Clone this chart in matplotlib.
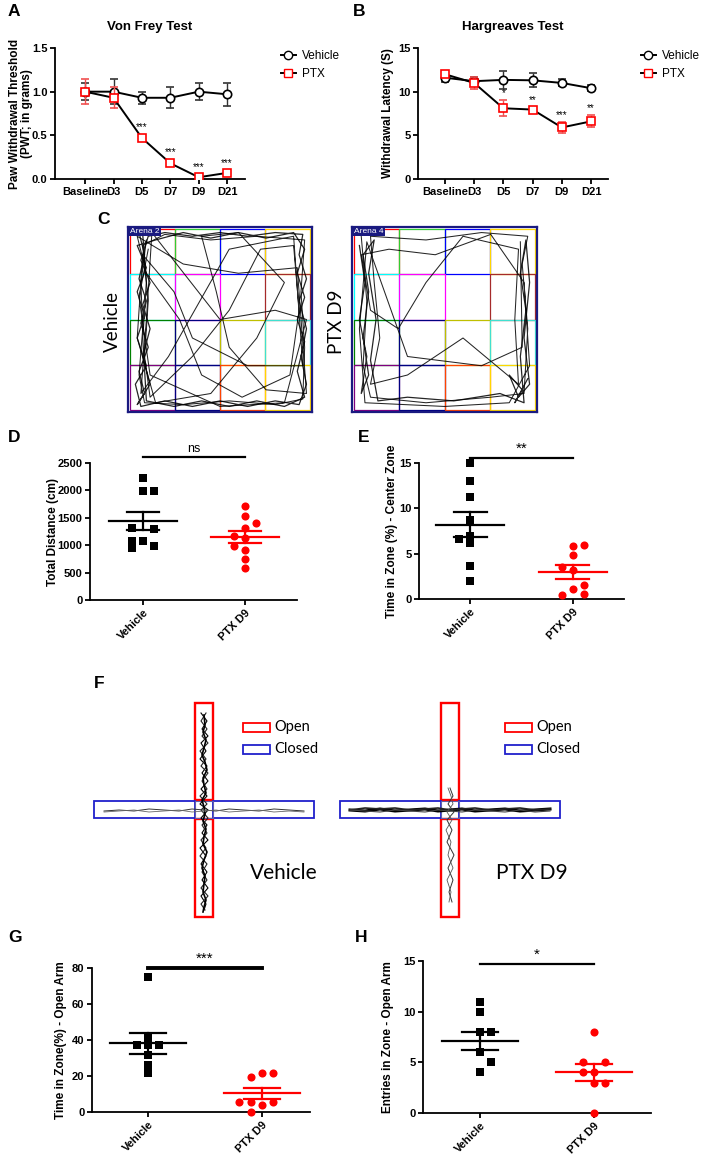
import numpy as np
import matplotlib.pyplot as plt
from matplotlib.patches import Rectangle
from matplotlib.lines import Line2D

W, H = 702, 1158
plt.rcParams['font.family'] = ['Liberation Sans', 'DejaVu Sans']
plt.rcParams['font.weight'] = 'bold'
plt.rcParams['axes.labelweight'] = 'bold'
plt.rcParams['axes.linewidth'] = 1.3

# ---- A / B : time course ----
days = ['Baseline', 'D3', 'D5', 'D7', 'D9', 'D21']
vf_veh = [1.0, 1.0, 0.93, 0.93, 1.0, 0.97]
vf_veh_err = [0.10, 0.14, 0.07, 0.12, 0.10, 0.13]
vf_ptx = [1.0, 0.93, 0.47, 0.18, 0.02, 0.07]
vf_ptx_err = [0.14, 0.12, 0.02, 0.02, 0.01, 0.01]
vf_stars = ['', '', '***', '***', '***', '***']

hg_veh = [11.6, 11.2, 11.35, 11.3, 11.0, 10.4]
hg_veh_err = [0.5, 0.5, 1.0, 0.8, 0.4, 0.35]
hg_ptx = [12.0, 11.0, 8.1, 7.95, 5.9, 6.6]
hg_ptx_err = [0.3, 0.7, 0.9, 0.2, 0.6, 0.7]
hg_stars = ['', '', '*', '**', '***', '**']

# ---- D / E / G / H : dot plots ----
groups = ['Vehicle', 'PTX D9']

dist_veh = [2230, 1980, 1990, 1320, 1300, 1080, 1070, 950, 990]
dist_veh_dx = [0, 0, 1, -1, 1, -1, 0, -1, 1]
dist_ptx = [1710, 1530, 1400, 1310, 1160, 1140, 990, 920, 750, 580]
dist_ptx_dx = [0, 0, 1, 0, -1, 0, -1, 0, 0, 0]
dist_mean = [1440, 1150]
dist_sem = [165, 115]

center_veh = [15.0, 13.0, 11.2, 8.7, 7.0, 6.6, 6.2, 3.6, 2.0]
center_veh_dx = [0, 0, 0, 0, 0, -1, 0, 0, 0]
center_ptx = [6.0, 5.8, 4.8, 3.5, 3.2, 1.5, 1.1, 0.5, 0.4]
center_ptx_dx = [1, 0, 0, -1, 0, 1, 0, 1, -1]
center_mean = [8.2, 3.0]
center_sem = [1.4, 0.75]

open_veh = [75, 41, 37, 37, 37, 31.5, 26, 21.5]
open_veh_dx = [0, 0, -1, 0, 1, 0, 0, 0]
open_ptx = [21.5, 21.5, 19.5, 5.5, 5.5, 5.5, 3.8, 0]
open_ptx_dx = [0, 1, -1, -2, -1, 1, 0, -1]
open_mean = [38.2, 10.4]
open_sem = [5.8, 3.0]

entries_veh = [11, 10, 8, 8, 6, 5, 4]
entries_veh_dx = [0, 0, 0, 1, 0, 1, 0]
entries_ptx = [8, 5, 5, 4, 4, 3, 3, 0]
entries_ptx_dx = [0, -1, 1, -1, 0, 0, 1, 0]
entries_mean = [7.1, 4.0]
entries_sem = [0.9, 0.8]

# ---- C : open field tracks (arena coords, 0..1) ----
veh_track = [(0.10, 0.93), (0.07, 0.70), (0.08, 0.45), (0.06, 0.20), (0.09, 0.05), (0.30, 0.04),
             (0.55, 0.06), (0.80, 0.04), (0.95, 0.07), (0.96, 0.35), (0.94, 0.65), (0.96, 0.93),
             (0.70, 0.95), (0.45, 0.93), (0.20, 0.96), (0.08, 0.90), (0.11, 0.60), (0.09, 0.30),
             (0.12, 0.08), (0.35, 0.30), (0.55, 0.55), (0.72, 0.88), (0.90, 0.90), (0.93, 0.55),
             (0.88, 0.20), (0.62, 0.08), (0.40, 0.20), (0.28, 0.50), (0.10, 0.75), (0.05, 0.95),
             (0.30, 0.80), (0.60, 0.75), (0.92, 0.78), (0.97, 0.10), (0.75, 0.12), (0.55, 0.35),
             (0.48, 0.65), (0.40, 0.95), (0.60, 0.97), (0.85, 0.70), (0.70, 0.40), (0.45, 0.10),
             (0.15, 0.05), (0.05, 0.40), (0.08, 0.85), (0.25, 0.65), (0.35, 0.40), (0.65, 0.25),
             (0.95, 0.25), (0.90, 0.95), (0.55, 0.88), (0.22, 0.30), (0.07, 0.10), (0.10, 0.50),
             (0.13, 0.97), (0.50, 0.50), (0.80, 0.55), (0.97, 0.50), (0.85, 0.05), (0.50, 0.03),
             (0.12, 0.20), (0.06, 0.62), (0.11, 0.88)]
veh_edge = [(0.06, 0.97), (0.09, 0.85), (0.06, 0.72), (0.10, 0.60), (0.07, 0.48), (0.11, 0.35),
            (0.06, 0.22), (0.09, 0.10), (0.05, 0.04), (0.12, 0.15), (0.08, 0.30), (0.12, 0.45),
            (0.08, 0.58), (0.12, 0.70), (0.07, 0.82), (0.11, 0.95), (0.20, 0.97), (0.35, 0.95),
            (0.50, 0.97), (0.65, 0.95), (0.80, 0.97), (0.95, 0.96), (0.93, 0.85), (0.97, 0.72),
            (0.93, 0.60), (0.97, 0.45), (0.94, 0.30), (0.97, 0.15), (0.93, 0.04), (0.80, 0.06),
            (0.65, 0.03), (0.50, 0.06), (0.35, 0.03), (0.20, 0.06), (0.07, 0.03), (0.04, 0.15),
            (0.10, 0.25), (0.05, 0.40), (0.09, 0.52), (0.05, 0.65), (0.10, 0.78), (0.05, 0.90),
            (0.15, 0.93), (0.30, 0.97), (0.45, 0.94), (0.60, 0.97), (0.75, 0.94), (0.90, 0.97),
            (0.96, 0.88), (0.92, 0.75), (0.96, 0.62), (0.92, 0.50), (0.96, 0.38), (0.92, 0.22),
            (0.96, 0.08), (0.85, 0.03), (0.70, 0.06), (0.55, 0.03), (0.40, 0.06), (0.25, 0.03),
            (0.10, 0.06), (0.08, 0.40), (0.10, 0.70), (0.08, 0.96)]
ptx_track = [(0.05, 0.95), (0.08, 0.60), (0.06, 0.25), (0.10, 0.08), (0.40, 0.05), (0.75, 0.08),
             (0.93, 0.10), (0.95, 0.45), (0.92, 0.80), (0.95, 0.95), (0.70, 0.97), (0.40, 0.93),
             (0.10, 0.95), (0.12, 0.70), (0.15, 0.40), (0.10, 0.15), (0.30, 0.20), (0.60, 0.40),
             (0.90, 0.15), (0.88, 0.50), (0.90, 0.88), (0.60, 0.95), (0.40, 0.70), (0.25, 0.45),
             (0.10, 0.55), (0.05, 0.85), (0.20, 0.88), (0.45, 0.85), (0.75, 0.96), (0.93, 0.70),
             (0.96, 0.25), (0.85, 0.05), (0.50, 0.03), (0.07, 0.05), (0.04, 0.45), (0.08, 0.92),
             (0.30, 0.30), (0.70, 0.25), (0.92, 0.35), (0.91, 0.92)]
ptx_edge = [(0.04, 0.90), (0.07, 0.70), (0.04, 0.50), (0.08, 0.30), (0.05, 0.10), (0.09, 0.20),
            (0.06, 0.40), (0.09, 0.65), (0.06, 0.85), (0.12, 0.93), (0.09, 0.75), (0.13, 0.50),
            (0.10, 0.28), (0.14, 0.06), (0.30, 0.08), (0.55, 0.06), (0.80, 0.10), (0.93, 0.05),
            (0.91, 0.30), (0.94, 0.55), (0.91, 0.75), (0.94, 0.93), (0.96, 0.70), (0.93, 0.40),
            (0.96, 0.15), (0.90, 0.08), (0.85, 0.20), (0.92, 0.12), (0.88, 0.05), (0.95, 0.18)]
cell_colors = [['red', 'limegreen', 'blue', 'gold'],
               ['cyan', 'magenta', 'none', 'brown'],
               ['green', 'navy', 'y', 'turquoise'],
               ['purple', 'navy', 'orangered', 'gold']]

# ---- F : plus maze tracks (offsets from maze centre, px) ----
open_y = [-97, -89, -81, -74, -67, -59, -51, -44, -37, -29, -21, -14, -6, 0, 8, 15, 23, 30,
          38, 46, 54, 62, 70, 78, 86, 94, 100]
veh_open_dx = [-3, 3, -2, 4, -3, 2, -4, 3, -2, 4, -3, 3, -4, 4, -3, 3, -2, 4, -4, 2, -3, 3,
               -2, 4, -3, 2, 0]
veh_open_dx2 = [2, -3, 3, -2, 4, -4, 2, -3, 4, -2, 3, -4, 3, -3, 4, -2, 3, -3, 2, -4, 3, -2,
                3, -3, 4, -3, 1]
veh_open_dx3 = [0, 1, -1, 2, 0, -2, 1, 3, -1, 0, 2, -2, 0, 1, -1, 2, 0, -1, 3, 0, -2, 1,
                0, -1, 2, 0, -1]
veh_open_y3 = [-95, -85, -78, -70, -62, -55, -48, -40, -32, -25, -17, -10, -3, 4, 11, 19, 27,
               34, 42, 50, 58, 66, 74, 82, 90, 97, 102]
closed_x = [-100, -85, -70, -55, -40, -25, -12, 0, 12, 25, 40, 55, 70, 85, 100]
veh_closed_dy = [1, 0, 1, -1, 0, 1, -1, 0, 1, -1, 0, 1, -1, 0, 1]
ptx_closed_dy = [0, 1, -1, 1, 0, -1, 1, 0, -1, 1, 0, -1, 1, 0, -1]
ptx_closed_dy2 = [1, -1, 0, -1, 1, 0, -1, 1, 0, -1, 1, 0, -1, 1, 0]
ptx_open_y = [-22, -14, -6, 2, 10, 20, 32, 45, 58, 70, 82, 92]
ptx_open_dx = [0, 3, -2, 4, -3, 2, -3, 4, -2, 3, -1, 2]
ptx_open_dx2 = [-2, 1, 3, -3, 2, -4, 1, -2, 3, -3, 1, -1]

fig = plt.figure(figsize=(W / 100, H / 100), dpi=100)


def add_ax(l, t, r, b):
    return fig.add_axes([l / W, 1 - b / H, (r - l) / W, (b - t) / H])


def letter(x, y, s):
    fig.text(x / W, 1 - y / H, s, fontsize=12.5, fontweight='bold', va='center', ha='left')


def style(ax):
    ax.spines['top'].set_visible(False)
    ax.spines['right'].set_visible(False)
    ax.tick_params(labelsize=8, width=1.3, length=3.5, pad=2)
    for t in ax.get_xticklabels() + ax.get_yticklabels():
        t.set_fontweight('bold')


def course(ax, veh, veh_err, ptx, ptx_err, stars, gap):
    x = np.arange(len(days))
    ax.errorbar(x, veh, yerr=veh_err, color='black', marker='o', ms=6, mfc='white', mec='black',
                mew=1.2, lw=1.4, ecolor='#333333', elinewidth=1, capsize=3, zorder=3)
    ax.errorbar(x, ptx, yerr=ptx_err, color='black', marker='s', ms=6, mfc='white', mec='red',
                mew=1.2, lw=1.4, ecolor='#f05050', elinewidth=1, capsize=3, zorder=4)
    for i, s in enumerate(stars):
        if s:
            ax.text(x[i], ptx[i] + ptx_err[i] + gap, s, ha='center', va='bottom',
                    fontsize=7, fontweight='normal')
    ax.set_xticks(x)
    ax.set_xticklabels(days)


# A
axA = add_ax(55, 48, 245, 179)
course(axA, vf_veh, vf_veh_err, vf_ptx, vf_ptx_err, vf_stars, 0.05)
axA.set_xlim(-1.06, 5.63)
axA.set_ylim(0, 1.5)
axA.set_yticks([0, 0.5, 1.0, 1.5])
axA.set_yticklabels(['0.0', '0.5', '1.0', '1.5'])
axA.set_ylabel('Paw Withdrawal Threshold\n(PWT; in grams)', fontsize=8.5, linespacing=1.0)
axA.yaxis.set_label_coords(-0.115, 0.5)
axA.set_title('Von Frey Test', fontsize=9.5, fontweight='bold', pad=13)
style(axA)
letter(8, 12, 'A')

# B
axB = add_ax(418, 48, 608, 179)
course(axB, hg_veh, hg_veh_err, hg_ptx, hg_ptx_err, hg_stars, 0.3)
axB.set_xlim(-0.92, 5.58)
axB.set_ylim(0, 15)
axB.set_yticks([0, 5, 10, 15])
axB.set_ylabel('Withdrawal Latency (S)', fontsize=8.5)
axB.yaxis.set_label_coords(-0.125, 0.5)
axB.set_title('Hargreaves Test', fontsize=9.5, fontweight='bold', pad=13)
style(axB)
letter(353, 12, 'B')

leg_handles = [Line2D([], [], color='black', marker='o', ms=6, mfc='white', mec='black', lw=1.4),
               Line2D([], [], color='black', marker='s', ms=6, mfc='white', mec='red', lw=1.4)]
for lx in (276, 636):
    fig.legend(leg_handles, ['Vehicle', 'PTX'], loc='upper left',
               bbox_to_anchor=(lx / W, 1 - 45 / H), frameon=False, handlelength=1.3,
               handletextpad=0.5, labelspacing=0.55, borderaxespad=0,
               prop={'size': 8.5, 'weight': 'normal'})

# C
letter(97, 220, 'C')
for (l, r), tracks, name, lab, lx in [((128, 312), (veh_track, veh_edge), 'Arena 2', 'Vehicle', 112),
                                      ((352, 537), (ptx_track, ptx_edge), 'Arena 4', 'PTX D9', 337)]:
    ax = add_ax(l, 227, r, 412)
    ax.set_xlim(0, 1)
    ax.set_ylim(0, 1)
    ax.set_xticks([])
    ax.set_yticks([])
    for sp in ax.spines.values():
        sp.set_color('#1a1a80')
        sp.set_linewidth(1.6)
    for i in range(4):
        for j in range(4):
            c = cell_colors[i][j]
            if c != 'none':
                ax.add_patch(Rectangle((0.012 + j * 0.244, 0.988 - (i + 1) * 0.244), 0.244, 0.244,
                                       fill=False, ec=c, lw=0.9))
    for tr, lw in zip(tracks, (0.75, 0.9)):
        tx, ty = zip(*tr)
        ax.plot(tx, ty, color='black', lw=lw, alpha=0.85)
    ax.text(0.012, 0.995, name, transform=ax.transAxes, ha='left', va='top', fontsize=6,
            fontweight='normal', color='white', bbox=dict(fc='#1a1a80', ec='none', pad=0.6))
    fig.text(lx / W, 1 - 322 / H, lab, rotation=90, ha='center', va='center', fontsize=13.5,
             fontweight='normal', family=['Lato', 'DejaVu Sans'])


def dots(ax, vals_list, dx_list, means, sems, jit, sig, sig_y, sig_lw, ymax, sig_size):
    for k, (vals, dx) in enumerate(zip(vals_list, dx_list)):
        col = 'black' if k == 0 else 'red'
        mk = 's' if k == 0 else 'o'
        xs = [k + d * jit for d in dx]
        ax.scatter(xs, vals, marker=mk, s=28 if k == 0 else 34, color=col, lw=0, zorder=3,
                   clip_on=False)
        ax.plot([k - 0.33, k + 0.33], [means[k], means[k]], color=col, lw=1.6, zorder=4)
        ax.plot([k, k], [means[k] - sems[k], means[k] + sems[k]], color=col, lw=1.6, zorder=4)
        for e in (-1, 1):
            ax.plot([k - 0.16, k + 0.16], [means[k] + e * sems[k]] * 2, color=col, lw=1.6, zorder=4)
    ax.plot([0, 1], [sig_y, sig_y], color='black', lw=sig_lw, clip_on=False)
    ax.text(0.5, sig_y + ymax * 0.015, sig, ha='center', va='bottom', fontsize=sig_size,
            fontweight='normal')
    ax.set_xticks([0, 1])
    ax.set_xticklabels(groups, rotation=45, ha='right', rotation_mode='anchor')
    ax.set_ylim(0, ymax)


# D
axD = add_ax(90, 463, 297, 600)
dots(axD, [dist_veh, dist_ptx], [dist_veh_dx, dist_ptx_dx], dist_mean, dist_sem, 0.108,
     'ns', 2610, 1.6, 2500, 9)
axD.set_xlim(-0.52, 1.51)
axD.set_yticks([0, 500, 1000, 1500, 2000, 2500])
axD.set_ylabel('Total Distance (cm)', fontsize=8.5)
axD.yaxis.set_label_coords(-0.15, 0.5)
style(axD)
letter(8, 437, 'D')

# E
axE = add_ax(419, 463, 624, 599)
dots(axE, [center_veh, center_ptx], [center_veh_dx, center_ptx_dx], center_mean, center_sem,
     0.108, '**', 15.6, 1.6, 15, 11)
axE.set_xlim(-0.5, 1.5)
axE.set_yticks([0, 5, 10, 15])
axE.set_ylabel('Time in Zone (%) - Center Zone', fontsize=8.5)
axE.yaxis.set_label_coords(-0.10, 0.5)
style(axE)
letter(358, 437, 'E')

# F
letter(94, 683, 'F')
axF = add_ax(80, 690, 600, 930)
axF.set_xlim(80, 600)
axF.set_ylim(930, 690)
axF.axis('off')
for cx, lab, legx in [(204, 'Vehicle', 243), (450, 'PTX D9', 505)]:
    cy = 810
    axF.add_patch(Rectangle((cx - 9, cy - 107), 18, 97, fill=False, ec='red', lw=1.7))
    axF.add_patch(Rectangle((cx - 9, cy + 9), 18, 98, fill=False, ec='red', lw=1.7))
    axF.add_patch(Rectangle((cx - 110, cy - 9), 101, 17, fill=False, ec='#2020cc', lw=1.3))
    axF.add_patch(Rectangle((cx + 9, cy - 9), 101, 17, fill=False, ec='#2020cc', lw=1.3))
    axF.add_patch(Rectangle((cx - 9, cy - 9), 18, 17, fill=False, ec='#6060aa', lw=0.8))
    axF.add_patch(Rectangle((legx, 723), 27, 9, fill=False, ec='red', lw=1.3))
    axF.add_patch(Rectangle((legx, 745), 27, 9, fill=False, ec='#2020cc', lw=1.3))
    axF.text(legx + 31, 727.5, 'Open', va='center', fontsize=10.5, fontweight='normal',
             family=['Lato', 'DejaVu Sans'])
    axF.text(legx + 31, 749.5, 'Closed', va='center', fontsize=10.5, fontweight='normal',
             family=['Lato', 'DejaVu Sans'])
    axF.text(cx + 46, 873, lab, va='center', fontsize=15, fontweight='normal',
             family=['Lato', 'DejaVu Sans'])
    if lab == 'Vehicle':
        axF.plot([cx + d for d in veh_open_dx], [cy + y for y in open_y], color='black', lw=0.8)
        axF.plot([cx + d for d in veh_open_dx2], [cy + y for y in open_y], color='#222222', lw=0.8)
        axF.plot([cx + d for d in veh_open_dx3], [cy + y for y in veh_open_y3], color='black', lw=1.2)
        axF.plot([cx + x for x in closed_x], [cy + d for d in veh_closed_dy], color='#333333', lw=0.7)
        axF.plot([cx + x for x in closed_x], [cy + 1 + d for d in veh_closed_dy[::-1]],
                 color='#666666', lw=0.6)
    else:
        axF.plot([cx + x for x in closed_x], [cy + d for d in ptx_closed_dy], color='black', lw=2.2)
        axF.plot([cx + x for x in closed_x], [cy - 1 + d for d in ptx_closed_dy2], color='#222222',
                 lw=1.2)
        axF.plot([cx + x for x in closed_x], [cy + 1 + d for d in ptx_closed_dy[::-1]],
                 color='#444444', lw=0.8)
        axF.plot([cx + d for d in ptx_open_dx], [cy + y for y in ptx_open_y], color='#333333', lw=0.7)
        axF.plot([cx + d for d in ptx_open_dx2], [cy + y for y in ptx_open_y], color='#555555', lw=0.6)

# G
axG = add_ax(92, 968, 310, 1112)
dots(axG, [open_veh, open_ptx], [open_veh_dx, open_ptx_dx], open_mean, open_sem, 0.10,
     '***', 80, 2.8, 80, 11)
axG.set_xlim(-0.49, 1.42)
axG.set_yticks([0, 20, 40, 60, 80])
axG.set_ylabel('Time in Zone(%) - Open Arm', fontsize=8.5)
axG.yaxis.set_label_coords(-0.115, 0.5)
style(axG)
letter(8, 937, 'G')

# H
axH = add_ax(423, 961, 651, 1113)
dots(axH, [entries_veh, entries_ptx], [entries_veh_dx, entries_ptx_dx], entries_mean,
     entries_sem, 0.10, '*', 14.7, 1.6, 15, 11)
axH.set_xlim(-0.5, 1.5)
axH.set_yticks([0, 5, 10, 15])
axH.set_ylabel('Entries in Zone - Open Arm', fontsize=8.5)
axH.yaxis.set_label_coords(-0.127, 0.5)
style(axH)
letter(355, 937, 'H')

fig.savefig('out.png', dpi=100)
